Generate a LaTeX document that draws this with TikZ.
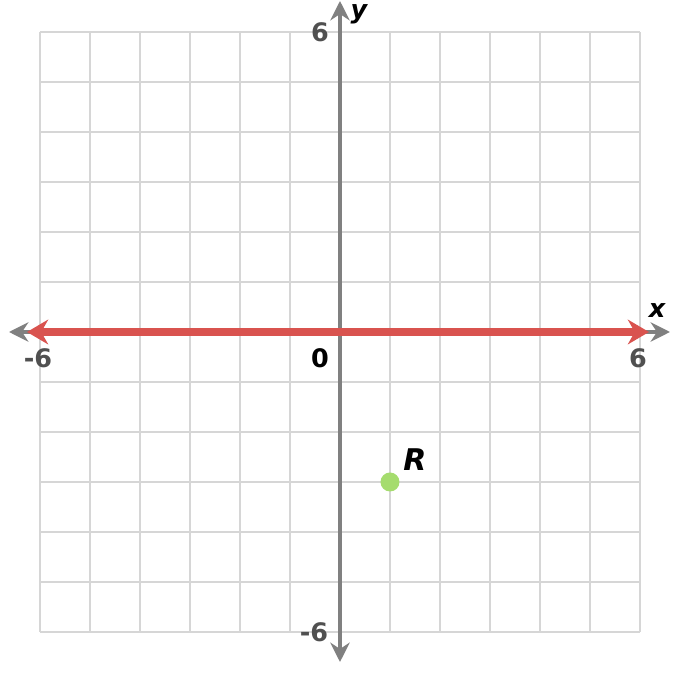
\documentclass[tikz,border=0pt]{standalone}
\usepackage{fontspec}
\setmainfont{DejaVu Sans}
\usetikzlibrary{arrows.meta}
\definecolor{gridgray}{HTML}{D6D6D6}
\definecolor{axisgray}{HTML}{808080}
\definecolor{linered}{HTML}{D9534F}
\definecolor{ptgreen}{HTML}{A5DC6E}
\definecolor{numgray}{HTML}{505050}
\begin{document}
\begin{tikzpicture}[every node/.style={font=\bfseries\fontsize{14.5}{16}\selectfont}]
  \useasboundingbox (-6.8,-6.84) rectangle (6.84,6.64);
  % grid
  \draw[gridgray,line width=1.5pt] (-6,-6) grid (6,6);
  % axes
  \coordinate (xl) at (-6.62,0); \coordinate (xr) at (6.6,0);
  \coordinate (yb) at (0,-6.6); \coordinate (yt) at (0,6.62);
  \draw[axisgray,line width=2.2pt,{Stealth[length=11pt,width=11pt]}-{Stealth[length=11pt,width=11pt]}] (xl) -- (xr);
  \draw[axisgray,line width=2.2pt,{Stealth[length=11pt,width=11pt]}-{Stealth[length=11pt,width=11pt]}] (yb) -- (yt);
  % red line on the x axis
  \coordinate (rl) at (-6.26,0); \coordinate (rr) at (6.18,0);
  \draw[linered,line width=4.4pt,{Stealth[length=12pt,width=14pt]}-{Stealth[length=12pt,width=14pt]}] (rl) -- (rr);
  % tick labels
  \node[numgray] (xm) at (-6.04,-0.52) {-6};
  \node[numgray] (xp) at (5.96,-0.52) {6};
  \node[numgray] (ym) at (-0.52,-6) {-6};
  \node[numgray] (yp) at (-0.4,6) {6};
  \node (o) at (-0.4,-0.52) {0};
  \node (xlab) at (6.34,0.42) {\itshape x};
  \node (ylab) at (0.38,6.36) {\itshape y};
  % point R
  \fill[ptgreen] (1,-3) circle (0.19);
  \node[font=\bfseries\itshape\fontsize{17}{19}\selectfont] (r) at (1.5,-2.56) {R};
\end{tikzpicture}
\end{document}
